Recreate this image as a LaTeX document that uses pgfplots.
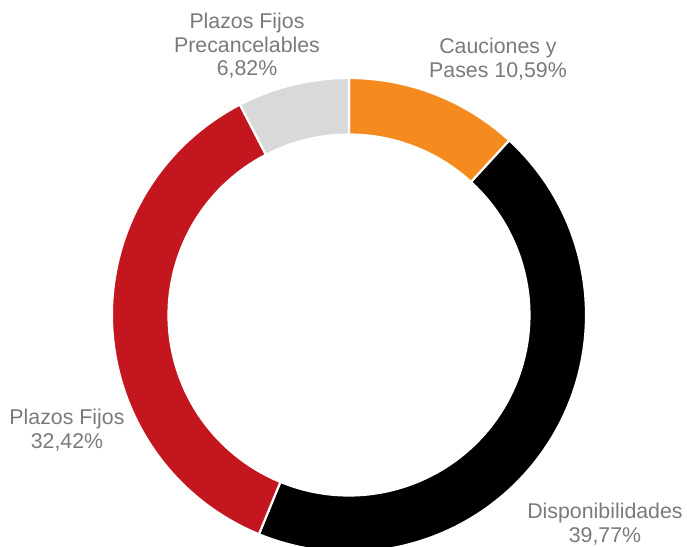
\documentclass[border=0pt]{standalone}
\usepackage{fontspec}
\setmainfont{Liberation Sans}
\usepackage{pgfplots}
\pgfplotsset{compat=1.18}
\definecolor{cOrange}{HTML}{F58A1F}
\definecolor{cRed}{HTML}{C4161F}
\definecolor{cGray}{HTML}{D9D9D9}
\definecolor{cText}{HTML}{7A7A7A}
% data (percent)
\def\vA{10.59}% Cauciones y Pases
\def\vB{39.77}% Disponibilidades
\def\vC{32.42}% Plazos Fijos
\def\vD{6.82}%  Plazos Fijos Precancelables
\pgfmathsetmacro\tot{\vA+\vB+\vC+\vD}
\pgfmathsetmacro\aS{90}
\pgfmathsetmacro\aA{90-360*\vA/\tot}
\pgfmathsetmacro\aB{\aA-360*\vB/\tot}
\pgfmathsetmacro\aC{\aB-360*\vC/\tot}
\pgfmathsetmacro\aD{\aC-360*\vD/\tot}
\newcommand\seg[3]{%
  \fill[#3, draw=white, line width=1.6pt, line join=miter]
    (axis cs:349,232) ++(#1:237) arc[start angle=#1, end angle=#2, radius=237]
    -- ++(#2:-56.5) arc[start angle=#2, end angle=#1, radius=180.5] -- cycle;}
\begin{document}
\begin{tikzpicture}
\begin{axis}[
  x=0.75pt, y=0.75pt,
  xmin=0, xmax=687, ymin=0, ymax=547,
  hide axis, scale only axis, disabledatascaling, clip=true,
]
\seg{\aS}{\aA}{cOrange}
\seg{\aA}{\aB}{black}
\seg{\aB}{\aC}{cRed}
\seg{\aC}{\aD}{cGray}
\begin{scope}[every node/.style={align=center, text=cText, font=\fontsize{16pt}{17.6pt}\selectfont, inner sep=0pt}]
\node at (axis cs:247,501) {Plazos Fijos\\Precancelables\\6,82\%};
\node at (axis cs:498,488) {Cauciones y\\Pases 10,59\%};
\node at (axis cs:67,117) {Plazos Fijos\\32,42\%};
\node at (axis cs:605,23) {Disponibilidades\\39,77\%};
\end{scope}
\end{axis}
\pgfresetboundingbox
\useasboundingbox (current axis.south west) rectangle (current axis.north east);
\end{tikzpicture}
\end{document}
